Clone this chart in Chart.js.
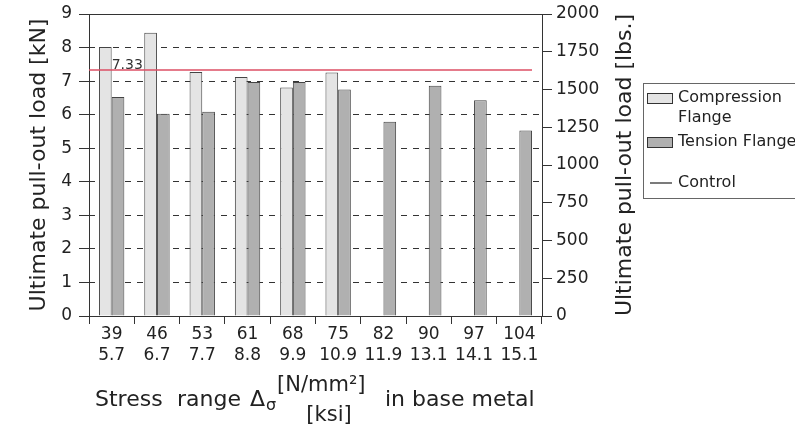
<!DOCTYPE html>
<html>
<head>
<meta charset="utf-8">
<script src="https://cdn.jsdelivr.net/npm/chart.js@4.4.0/dist/chart.umd.min.js"></script>
<style>
html, body { margin: 0; padding: 0; background: #fff; }
</style>
</head>
<body>
<canvas id="chart" width="795" height="433"></canvas>
<script>
// stress range in base metal, N/mm2 and ksi
const stressNmm = ['39', '46', '53', '61', '68', '75', '82', '90', '97', '104'];
const stressKsi = ['5.7', '6.7', '7.7', '8.8', '9.9', '10.9', '11.9', '13.1', '14.1', '15.1'];

// ultimate pull-out load [kN]
const compression = [8.02, 8.44, 7.27, 7.12, 6.81, 7.26, null, null, null, null];
const tension = [6.53, 6.03, 6.09, 6.97, 6.97, 6.75, 5.79, 6.86, 6.43, 5.53];
const controlLoad = 7.33;

const kNMax = 9;
const lbsMax = 2000;

const FONT = '"DejaVu Sans", sans-serif';
const TXT = '#222';
const LINE = '#333';

Chart.defaults.font.family = FONT;
Chart.defaults.color = TXT;

const labels = stressNmm.map((v, i) => [v, stressKsi[i]]);

// control line + value, titles, legend
const extras = {
    id: 'extras',
    afterDatasetsDraw(chart) {
        const ctx = chart.ctx;
        const x = chart.scales.x;
        const y = chart.scales.y;
        const yc = y.getPixelForValue(controlLoad);
        ctx.save();
        ctx.strokeStyle = '#dc4f64';
        ctx.lineWidth = 1.5;
        ctx.beginPath();
        ctx.moveTo(x.left, yc);
        ctx.lineTo(x.right - 10, yc);
        ctx.stroke();
        ctx.fillStyle = LINE;
        ctx.font = '14px ' + FONT;
        ctx.textAlign = 'left';
        ctx.textBaseline = 'alphabetic';
        ctx.fillText(controlLoad.toFixed(2), x.getPixelForValue(0), yc - 1.5);
        ctx.restore();
    },
    afterDraw(chart) {
        const ctx = chart.ctx;
        ctx.save();
        ctx.fillStyle = TXT;

        // right axis title, reads bottom to top
        ctx.save();
        ctx.translate(625, (chart.chartArea.top + chart.chartArea.bottom) / 2);
        ctx.rotate(-Math.PI / 2);
        ctx.font = '22px ' + FONT;
        ctx.textAlign = 'center';
        ctx.textBaseline = 'middle';
        ctx.fillText('Ultimate pull-out load [lbs.]', 0, 0);
        ctx.restore();

        // x axis title
        ctx.textAlign = 'left';
        ctx.textBaseline = 'middle';
        ctx.font = '22px ' + FONT;
        ctx.fillText('Stress', 95, 400);
        ctx.fillText('range', 177, 400);
        ctx.fillText('\u0394', 250, 400);
        ctx.font = '16px ' + FONT;
        ctx.fillText('\u03c3', 266, 406);
        ctx.font = '21px ' + FONT;
        ctx.fillText('[N/mm\u00b2]', 277, 386);
        ctx.textAlign = 'center';
        ctx.fillText('[ksi]', 329, 416);
        ctx.textAlign = 'left';
        ctx.font = '22px ' + FONT;
        ctx.fillText('in base metal', 385, 400);

        // legend
        ctx.strokeStyle = '#666';
        ctx.lineWidth = 1;
        ctx.strokeRect(643.5, 83.5, 170, 115);
        ctx.strokeStyle = LINE;
        ctx.fillStyle = '#e4e4e4';
        ctx.fillRect(647, 93, 26, 11);
        ctx.strokeRect(647.5, 93.5, 25, 10);
        ctx.fillStyle = '#b0b0b0';
        ctx.fillRect(647, 137, 26, 11);
        ctx.strokeRect(647.5, 137.5, 25, 10);
        ctx.lineWidth = 1.3;
        ctx.beginPath();
        ctx.moveTo(650, 183);
        ctx.lineTo(672, 183);
        ctx.stroke();
        ctx.fillStyle = TXT;
        ctx.font = '16px ' + FONT;
        ctx.fillText('Compression', 678, 98);
        ctx.fillText('Flange', 678, 118);
        ctx.fillText('Tension Flange', 678, 142);
        ctx.fillText('Control', 678, 183);
        ctx.restore();
    }
};

new Chart(document.getElementById('chart'), {
    type: 'bar',
    data: {
        labels: labels,
        datasets: [
            {
                label: 'Compression Flange',
                data: compression,
                backgroundColor: '#e4e4e4',
                borderColor: '#444',
                borderWidth: 1,
                categoryPercentage: 0.56,
                barPercentage: 1.0
            },
            {
                label: 'Tension Flange',
                data: tension,
                backgroundColor: '#b0b0b0',
                borderColor: '#444',
                borderWidth: 1,
                categoryPercentage: 0.56,
                barPercentage: 1.0
            }
        ]
    },
    options: {
        responsive: false,
        animation: false,
        layout: { padding: 0 },
        plugins: {
            legend: { display: false },
            tooltip: { enabled: false }
        },
        scales: {
            x: {
                position: 'bottom',
                grid: {
                    offset: true,
                    drawOnChartArea: false,
                    tickLength: 8,
                    color: LINE
                },
                border: { color: LINE, width: 1 },
                ticks: {
                    font: { size: 17, lineHeight: 1.25 },
                    color: TXT,
                    padding: 0,
                    maxRotation: 0,
                    autoSkip: false
                },
                afterFit(scale) { scale.height = 117; }
            },
            xt: {
                type: 'category',
                position: 'top',
                labels: labels,
                grid: { display: false },
                ticks: { display: false },
                border: { display: true, color: LINE, width: 1 },
                afterFit(scale) { scale.height = 14; }
            },
            y: {
                position: 'left',
                min: 0,
                max: kNMax,
                ticks: { stepSize: 1, font: { size: 17, lineHeight: 0.8 }, color: TXT, padding: 7 },
                grid: { drawOnChartArea: false, tickLength: 10, color: LINE },
                border: { color: LINE, width: 1 },
                title: {
                    display: true,
                    text: 'Ultimate pull-out load [kN]',
                    font: { size: 22 },
                    color: TXT,
                    padding: { top: 26, bottom: 0 }
                },
                afterFit(scale) { scale.width = 89; }
            },
            yg: {
                position: 'left',
                min: 0,
                max: kNMax,
                ticks: { stepSize: 1, display: false },
                grid: {
                    drawTicks: false,
                    color: c => (c.tick.value === 0 || c.tick.value === kNMax) ? 'rgba(0,0,0,0)' : LINE
                },
                border: { display: false, dash: [6, 6] },
                afterFit(scale) { scale.width = 0; }
            },
            y2: {
                position: 'right',
                min: 0,
                max: lbsMax,
                ticks: {
                    stepSize: 250,
                    font: { size: 17, lineHeight: 0.8 },
                    color: TXT,
                    padding: 4,
                    callback: v => String(v)
                },
                grid: { drawOnChartArea: false, tickLength: 10, color: LINE },
                border: { color: LINE, width: 1 },
                afterFit(scale) { scale.width = 253; }
            }
        }
    },
    plugins: [extras]
});
</script>
</body>
</html>
